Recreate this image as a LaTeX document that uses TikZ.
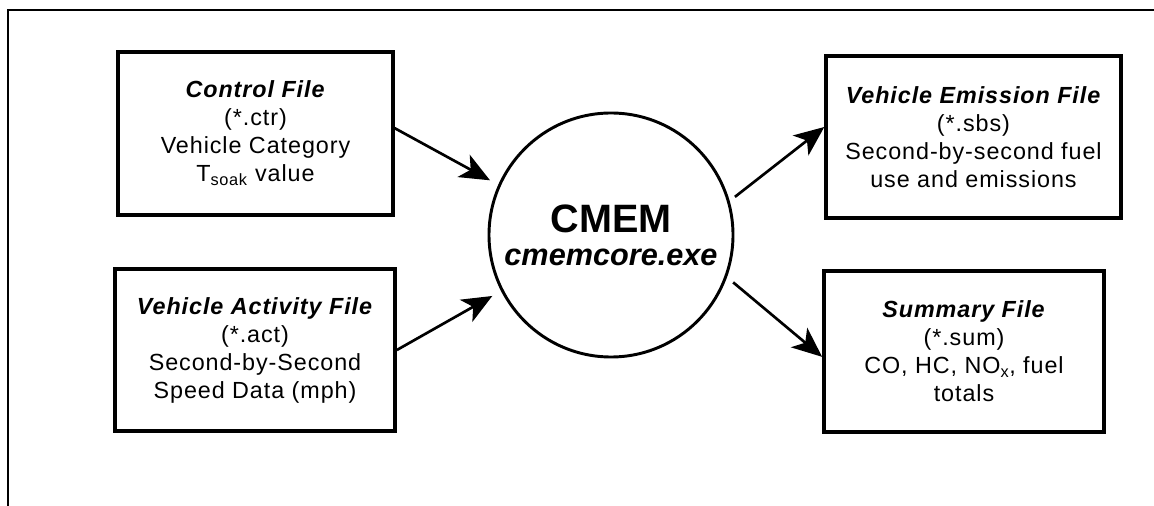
\documentclass[tikz,border=0pt]{standalone}
\usepackage{fontspec}
\setmainfont{Liberation Sans}
\newfontfamily\boxfont{Liberation Sans}[LetterSpace=4]
\usetikzlibrary{arrows.meta}
\begin{document}
\begin{tikzpicture}[x=0.75pt,y=-0.75pt,
  filebox/.style={draw,line width=2.8pt,inner sep=0pt,align=center,
    font=\boxfont\fontsize{17.5pt}{21pt}\selectfont},
  core/.style={draw,circle,line width=2.2pt,inner sep=0pt,align=center,minimum size=183pt,
    font=\fontsize{23pt}{24.75pt}\selectfont\bfseries},
  flow/.style={line width=2pt,-{Stealth[length=22.5pt,width=19pt,inset=6pt]}},
  frame/.style={line width=1.5pt}]
\useasboundingbox (0,0) rectangle (1154,506);
\draw[frame] (8,506) -- (8,10.5) -- (1154,10.5);
\node[filebox,minimum width=206pt,minimum height=122pt] (ctrl) at (255.5,133.5)
  {\textbf{\textit{Control File}}\\(*.ctr)\\Vehicle Category\\T\textsubscript{soak} value};
\node[filebox,minimum width=210pt,minimum height=121.5pt] (act) at (255,350)
  {\textbf{\textit{Vehicle Activity File}}\\(*.act)\\Second-by-Second\\Speed Data (mph)};
\node[filebox,minimum width=221pt,minimum height=121.5pt] (emis) at (973.5,137)
  {\textbf{\textit{Vehicle Emission File}}\\(*.sbs)\\Second-by-second fuel\\use and emissions};
\node[filebox,minimum width=210pt,minimum height=121pt] (summ) at (964,351.5)
  {\textbf{\textit{Summary File}}\\(*.sum)\\CO, HC, NO\textsubscript{x}, fuel\\totals};
\node[core] (cmem) at (611,235)
  {{\fontsize{29.7pt}{24.75pt}\selectfont CMEM}\\\textit{cmemcore.exe}};
\draw[flow,shorten >=7pt] ([yshift=4pt]ctrl.east) -- (cmem.156);
\draw[flow,shorten >=7.5pt] (act.east) -- (cmem.207);
\draw[flow,shorten <=5pt] (cmem.16) -- ([yshift=7.5pt]emis.west);
\draw[flow,shorten <=6pt] (cmem.-20) -- ([yshift=-4pt]summ.west);
\end{tikzpicture}
\end{document}
